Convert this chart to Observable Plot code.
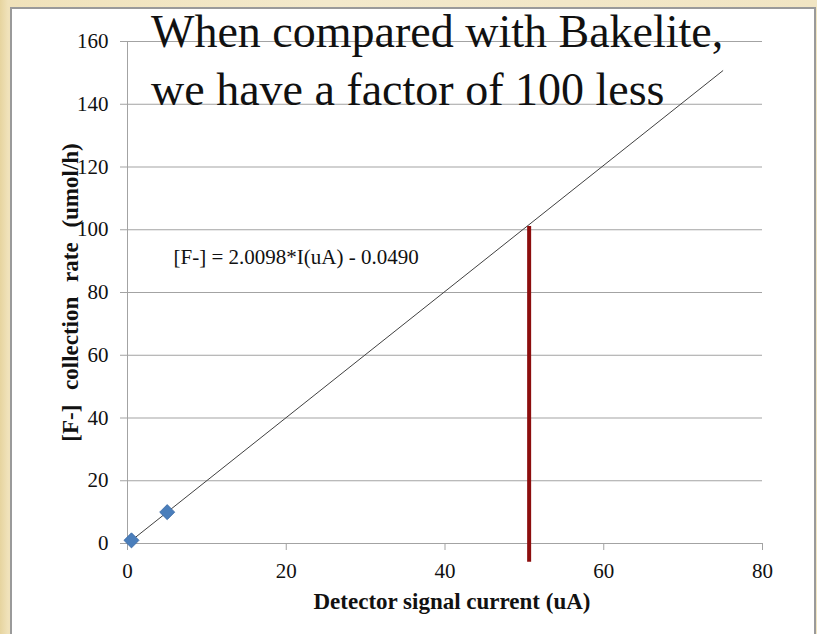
<!DOCTYPE html>
<html>
<head>
<meta charset="utf-8">
<script src="https://cdn.jsdelivr.net/npm/d3@7"></script>
<script src="https://cdn.jsdelivr.net/npm/@observablehq/plot@0.6"></script>
<style>
  html, body { margin: 0; padding: 0; }
  body {
    width: 817px; height: 634px; overflow: hidden;
    background: linear-gradient(90deg, #e6d49f 0px, #f0e2ba 8px, #f3e9cb 40%, #f1e5c3 100%);
  }
  #stage { position: relative; width: 817px; height: 634px; }
  #panel {
    position: absolute; left: 10px; top: 7px; width: 802px; height: 640px;
    background: #ffffff; border: 2px solid #9a9a9a;
  }
  #chart { position: absolute; left: 0; top: 0; }
  #headline {
    position: absolute; left: 151px; top: 3px;
    font-family: 'Liberation Serif', 'Times New Roman', 'DejaVu Serif', serif;
    font-size: 46px; line-height: 58px; color: #111;
    white-space: nowrap;
  }
  #chart text { font-family: 'Liberation Serif', 'Times New Roman', 'DejaVu Serif', serif; }
</style>
</head>
<body>
<div id="stage">
  <div id="panel"></div>
  <div id="chart"></div>
  <div id="headline">When compared with Bakelite,<br>we have a factor of 100 less</div>
</div>
<script>
// Measured points: detector current (uA) vs fluoride collection rate (umol/h)
const currentUA = [0.5, 5];
const collectionRate = [1, 10];

// Linear fit as stated on the chart: [F-] = 2.0098*I(uA) - 0.0490
const fitSlope = 2.0098;
const fitIntercept = -0.0490;
const fitRange = [0.5, 75];

// Marker for the operating current
const markerCurrent = [50.6];
const markerSpan = [-6, 101];

const xTicks = [0, 20, 40, 60, 80];
const yTicks = [0, 20, 40, 60, 80, 100, 120, 140, 160];

const equationLabel = "[F-] = 2.0098*I(uA) - 0.0490";
const xLabel = "Detector signal current (uA)";
const yLabel = "[F-] collection rate (umol/h)";

const points = currentUA.map((x, i) => ({x, y: collectionRate[i]}));
const fitLine = fitRange.map(x => ({x, y: fitSlope * x + fitIntercept}));

const gridColor = "#a3a3a3";
const serif = "'Liberation Serif', 'Times New Roman', serif";

const chart = Plot.plot({
  width: 817,
  height: 634,
  marginLeft: 127,
  marginRight: 55,
  marginTop: 41,
  marginBottom: 91,
  style: {background: "transparent", fontFamily: serif, fontSize: "20px", color: "#111"},
  x: {domain: [0, 80]},
  y: {domain: [0, 160]},
  marks: [
    Plot.gridY(yTicks, {stroke: gridColor, strokeOpacity: 1, strokeWidth: 1}),
    Plot.ruleX([0], {y1: 0, y2: 160, stroke: gridColor, strokeWidth: 1}),
    Plot.ruleY([0], {stroke: gridColor, strokeWidth: 1}),
    Plot.axisY(yTicks, {tickSize: 7, tickPadding: 12, stroke: gridColor, label: null, fontSize: 21, fontFamily: serif}),
    Plot.axisX(xTicks, {tickSize: 7, tickPadding: 13, stroke: gridColor, label: null, fontSize: 21, fontFamily: serif}),
    Plot.line(fitLine, {x: "x", y: "y", stroke: "#404040", strokeWidth: 1}),
    Plot.ruleX(markerCurrent, {y1: markerSpan[0], y2: markerSpan[1], stroke: "#8c0d0d", strokeWidth: 4}),
    Plot.dot(points, {x: "x", y: "y", symbol: "square", r: 6, rotate: 45, fill: "#4a7ebb", stroke: "#3d6ca6", strokeWidth: 0.8}),
    Plot.text([equationLabel], {x: 5.8, y: 91.2, text: d => d, textAnchor: "start", fontSize: 21, fontFamily: serif, fill: "#111"}),
    Plot.text([xLabel], {frameAnchor: "bottom", dx: 7, dy: 58, text: d => d, textAnchor: "middle", lineAnchor: "middle", fontSize: 23, fontWeight: "bold", fontFamily: serif, fill: "#111"}),
    Plot.text([yLabel], {frameAnchor: "left", dx: -57, rotate: -90, text: d => d, textAnchor: "middle", lineAnchor: "middle", fontSize: 23, fontWeight: "bold", fontFamily: serif, fill: "#111"})
  ]
});

// widen the gaps between words of the vertical axis title
d3.select(chart).selectAll("text").filter(function() { return this.textContent === yLabel; })
  .style("word-spacing", "9px");

document.getElementById("chart").appendChild(chart);
</script>
</body>
</html>
